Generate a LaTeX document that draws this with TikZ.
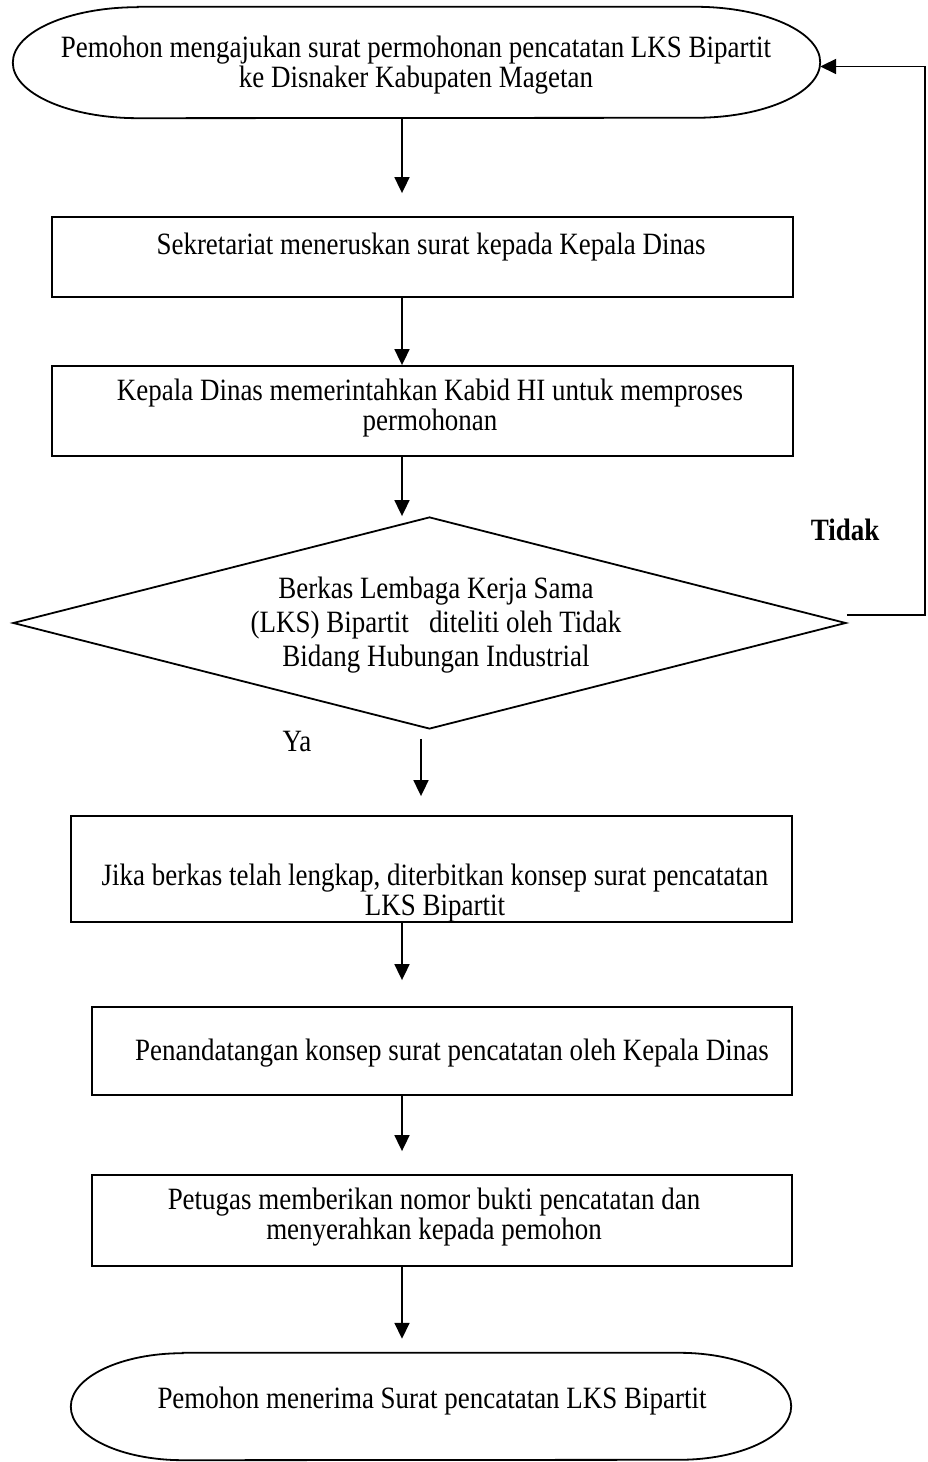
\documentclass[tikz,border=0pt]{standalone}
\usepackage{fontspec}
% narrow, tall serif letters
\setmainfont{Liberation Serif}[FakeStretch=0.87]
\usetikzlibrary{shapes.geometric,arrows.meta}

\begin{document}
\begin{tikzpicture}[x=1pt,y=1pt,
  outline/.style={draw=black, line width=1.8pt},
  procbox/.style={outline, rectangle, inner sep=0pt},
  termarea/.style={rectangle, inner sep=0pt},
  decbox/.style={outline, diamond, inner sep=0pt, aspect=1},
  txt/.style={inner sep=0pt, align=center, font=\fontsize{31}{30.5}\selectfont},
  dtxt/.style={inner sep=0pt, align=center, font=\fontsize{31}{34}\selectfont},
  arr/.style={line width=1.8pt, -{Triangle[width=15pt,length=16pt]}},
  link/.style={line width=1.8pt}
]
\useasboundingbox (0,0) rectangle (928,1462);

% column positions of the vertical connectors
\coordinate (col) at (402,0);
\coordinate (colb) at (421,0);

% start terminator
\node[termarea, minimum width=807pt, minimum height=111pt] (start) at (416.5,1399.5) {};
\draw[outline] ([xshift=125pt]start.north west) -- ([xshift=-125pt]start.north east)
  arc[start angle=90, end angle=-90, x radius=125pt, y radius=55.5pt]
  -- ([xshift=125pt]start.south west)
  arc[start angle=270, end angle=90, x radius=125pt, y radius=55.5pt] -- cycle;
\node[txt] (tstart) at (416,1397) {Pemohon mengajukan surat permohonan pencatatan LKS Bipartit\\ke Disnaker Kabupaten Magetan};

% process boxes
\node[procbox, minimum width=741pt, minimum height=80pt] (b2) at (422.5,1205) {};
\node[txt] (t2) at (431,1215) {Sekretariat meneruskan surat kepada Kepala Dinas};

\node[procbox, minimum width=741pt, minimum height=90pt] (b3) at (422.5,1051) {};
\node[txt] (t3) at (430,1054) {Kepala Dinas memerintahkan Kabid HI untuk memproses\\permohonan};

% decision
\node[decbox, minimum width=833pt, minimum height=212pt] (dec) at (429.5,839) {};
\node[dtxt] (tdec) at (436,837) {Berkas Lembaga Kerja Sama\\(LKS) Bipartit \ \ diteliti oleh Tidak\\Bidang Hubungan Industrial};
\node[txt, font=\fontsize{31}{30.5}\selectfont\bfseries] (tidak) at (845,932) {Tidak};
\node[txt] (ya) at (297,720) {Ya};

\node[procbox, minimum width=721pt, minimum height=106pt] (b5) at (431.5,593) {};
\node[txt] (t5) at (435,569) {Jika berkas telah lengkap, diterbitkan konsep surat pencatatan\\LKS Bipartit};

\node[procbox, minimum width=700pt, minimum height=88pt] (b6) at (442,411) {};
\node[txt] (t6) at (452,409) {Penandatangan konsep surat pencatatan oleh Kepala Dinas};

\node[procbox, minimum width=700pt, minimum height=91pt] (b7) at (442,241.5) {};
\node[txt] (t7) at (434,245) {Petugas memberikan nomor bukti pencatatan dan\\menyerahkan kepada pemohon};

% end terminator
\node[termarea, minimum width=720pt, minimum height=107pt] (stop) at (431,55.5) {};
\draw[outline] ([xshift=112pt]stop.north west) -- ([xshift=-112pt]stop.north east)
  arc[start angle=90, end angle=-90, x radius=112pt, y radius=53.5pt]
  -- ([xshift=112pt]stop.south west)
  arc[start angle=270, end angle=90, x radius=112pt, y radius=53.5pt] -- cycle;
\node[txt] (tstop) at (432,61) {Pemohon menerima Surat pencatatan LKS Bipartit};

% connectors
\draw[arr, shorten >=23pt] (start.south -| col) -- (b2.north -| col);
\draw[arr] (b2.south -| col) -- (b3.north -| col);
\draw[arr] (b3.south -| col) -- (dec.north -| col);
\draw[arr, shorten <=9pt, shorten >=19pt] (dec.south -| colb) -- (b5.north -| colb);
\draw[arr, shorten >=26pt] (b5.south -| col) -- (b6.north -| col);
\draw[arr, shorten >=23pt] (b6.south -| col) -- (b7.north -| col);
\draw[arr, shorten >=14pt] (b7.south -| col) -- (stop.north -| col);

% rejected branch back to the start
\draw[arr] ([yshift=8pt]dec.east) -- ++(78pt,0) |- ([yshift=-4pt]start.east);
\end{tikzpicture}
\end{document}
